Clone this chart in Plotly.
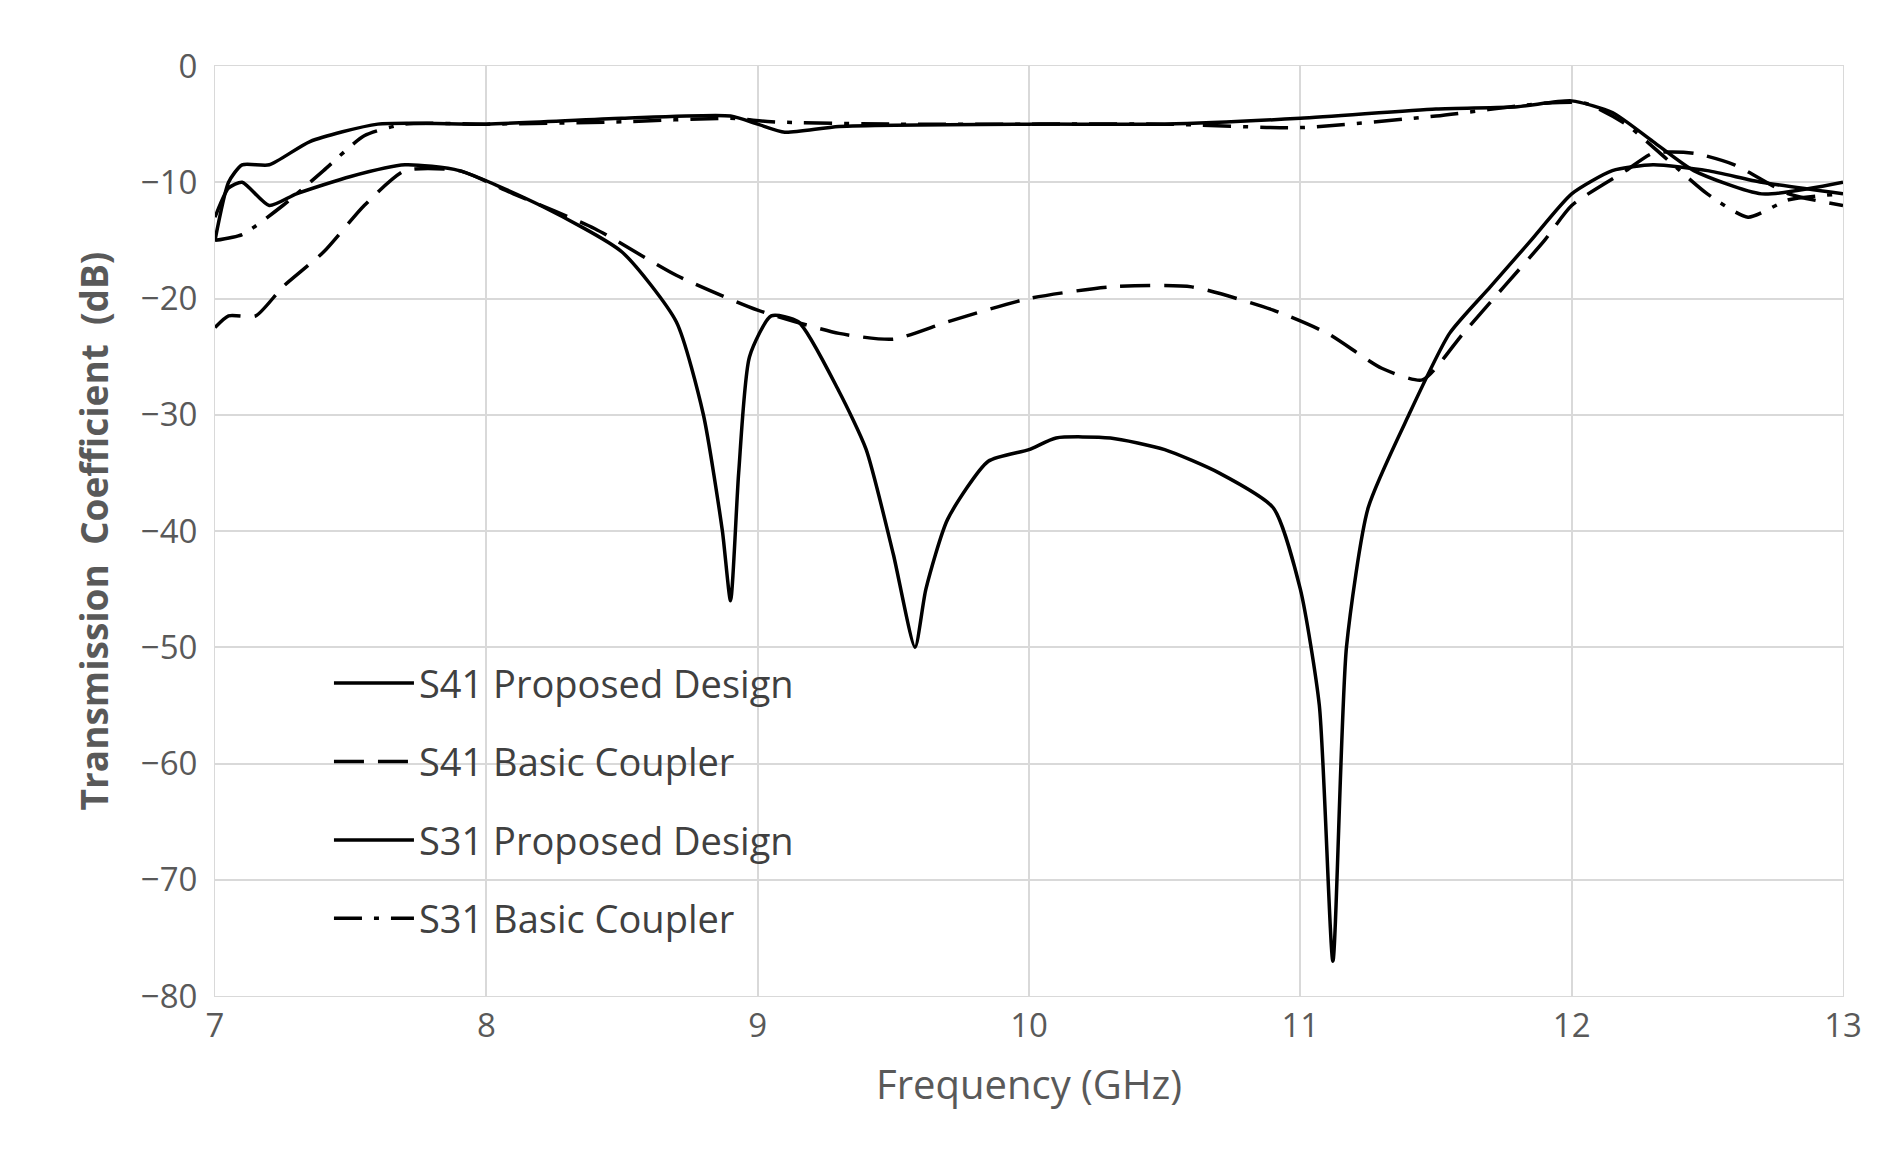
import plotly.graph_objects as go

f_s41p = [7,7.05,7.1,7.2,7.3,7.5,7.7,7.9,8.2,8.5,8.7,8.8,8.87,8.9,8.93,8.97,9.05,9.15,9.3,9.4,9.5,9.58,9.62,9.7,9.85,10.0,10.1,10.3,10.5,10.7,10.9,11.0,11.07,11.12,11.17,11.25,11.4,11.55,11.7,11.85,12.0,12.15,12.3,12.5,12.7,13]
s41p = [-13,-10.5,-10,-12,-11,-9.5,-8.5,-9,-12,-16,-22,-30,-40,-46,-35,-25,-21.5,-22,-28,-33,-42,-50,-45,-39,-34,-33,-32,-32,-33,-35,-38,-45,-55,-77,-50,-38,-30,-23,-19,-15,-11,-9,-8.5,-9,-10,-11]
f_s41b = [7,7.05,7.15,7.25,7.4,7.55,7.7,7.9,8.1,8.4,8.7,9.0,9.3,9.5,9.7,10.0,10.3,10.6,10.9,11.1,11.3,11.45,11.6,11.75,11.9,12.0,12.2,12.3,12.45,12.6,12.8,13]
s41b = [-22.5,-21.5,-21.5,-19,-16,-12,-9,-9,-11,-14,-18,-21,-23,-23.5,-22,-20,-19,-19,-21,-23,-26,-27,-23,-19,-15,-12,-9,-7.5,-7.5,-8.5,-11,-12]
f_s31p = [7,7.05,7.1,7.2,7.35,7.6,8,8.5,8.9,9.0,9.1,9.3,10,10.5,11,11.5,11.8,12.0,12.15,12.3,12.45,12.7,13]
s31p = [-15,-10,-8.5,-8.5,-6.5,-5,-5,-4.5,-4.3,-5,-5.7,-5.2,-5,-5,-4.5,-3.7,-3.5,-3,-4,-6.5,-9,-11,-10]
f_s31b = [7,7.1,7.25,7.4,7.55,7.7,8,8.5,8.9,9.05,9.5,10,10.5,11,11.5,11.9,12.05,12.2,12.35,12.5,12.65,12.8,13]
s31b = [-15,-14.5,-12,-9,-6,-5,-5,-4.8,-4.5,-4.8,-5,-5,-5,-5.3,-4.3,-3.2,-3.2,-5,-8,-11,-13,-11.5,-11]

fig = go.Figure()
def add(x, y, name, dash, grp):
    fig.add_trace(go.Scatter(x=x, y=y, name=name, mode="lines", legendgroup=grp,
                             line=dict(color="black", width=3.5, dash=dash, shape="spline", smoothing=0.6)))
add(f_s41p, s41p, "S41 Proposed Design", "solid", "a")
add(f_s41b, s41b, "S41 Basic Coupler", "30px,14px", "b")
add(f_s31p, s31p, "S31 Proposed Design", "solid", "c")
add(f_s31b, s31b, "S31 Basic Coupler", "28px,12px,5px,12px", "d")

fig.update_layout(
    width=1877, height=1160, plot_bgcolor="white", paper_bgcolor="white",
    margin=dict(l=207, r=42, t=58, b=172),
    font=dict(family="Open Sans", color="#595959", size=33),
    legend=dict(x=0.07, y=0.37, xanchor="left", yanchor="top", bgcolor="rgba(0,0,0,0)",
                font=dict(size=38, color="#404040"), tracegroupgap=26, itemwidth=80),
    xaxis=dict(range=[7,13], dtick=1, showgrid=True, gridcolor="#d9d9d9", gridwidth=2,
               showline=True, linecolor="#d9d9d9", mirror=True, zeroline=False,
               title=dict(text="Frequency (GHz)", font=dict(size=40, color="#595959"), standoff=25)),
    yaxis=dict(range=[-80,0], dtick=10, showgrid=True, gridcolor="#d9d9d9", gridwidth=2,
               showline=True, linecolor="#d9d9d9", mirror=True, zeroline=False,
               tickformat="d", ticklabelstandoff=10,
               title=dict(text="<b>Transmission  Coefficient  (dB)</b>", font=dict(size=37, color="#595959"), standoff=20)),
)
fig.write_html("out.html")
